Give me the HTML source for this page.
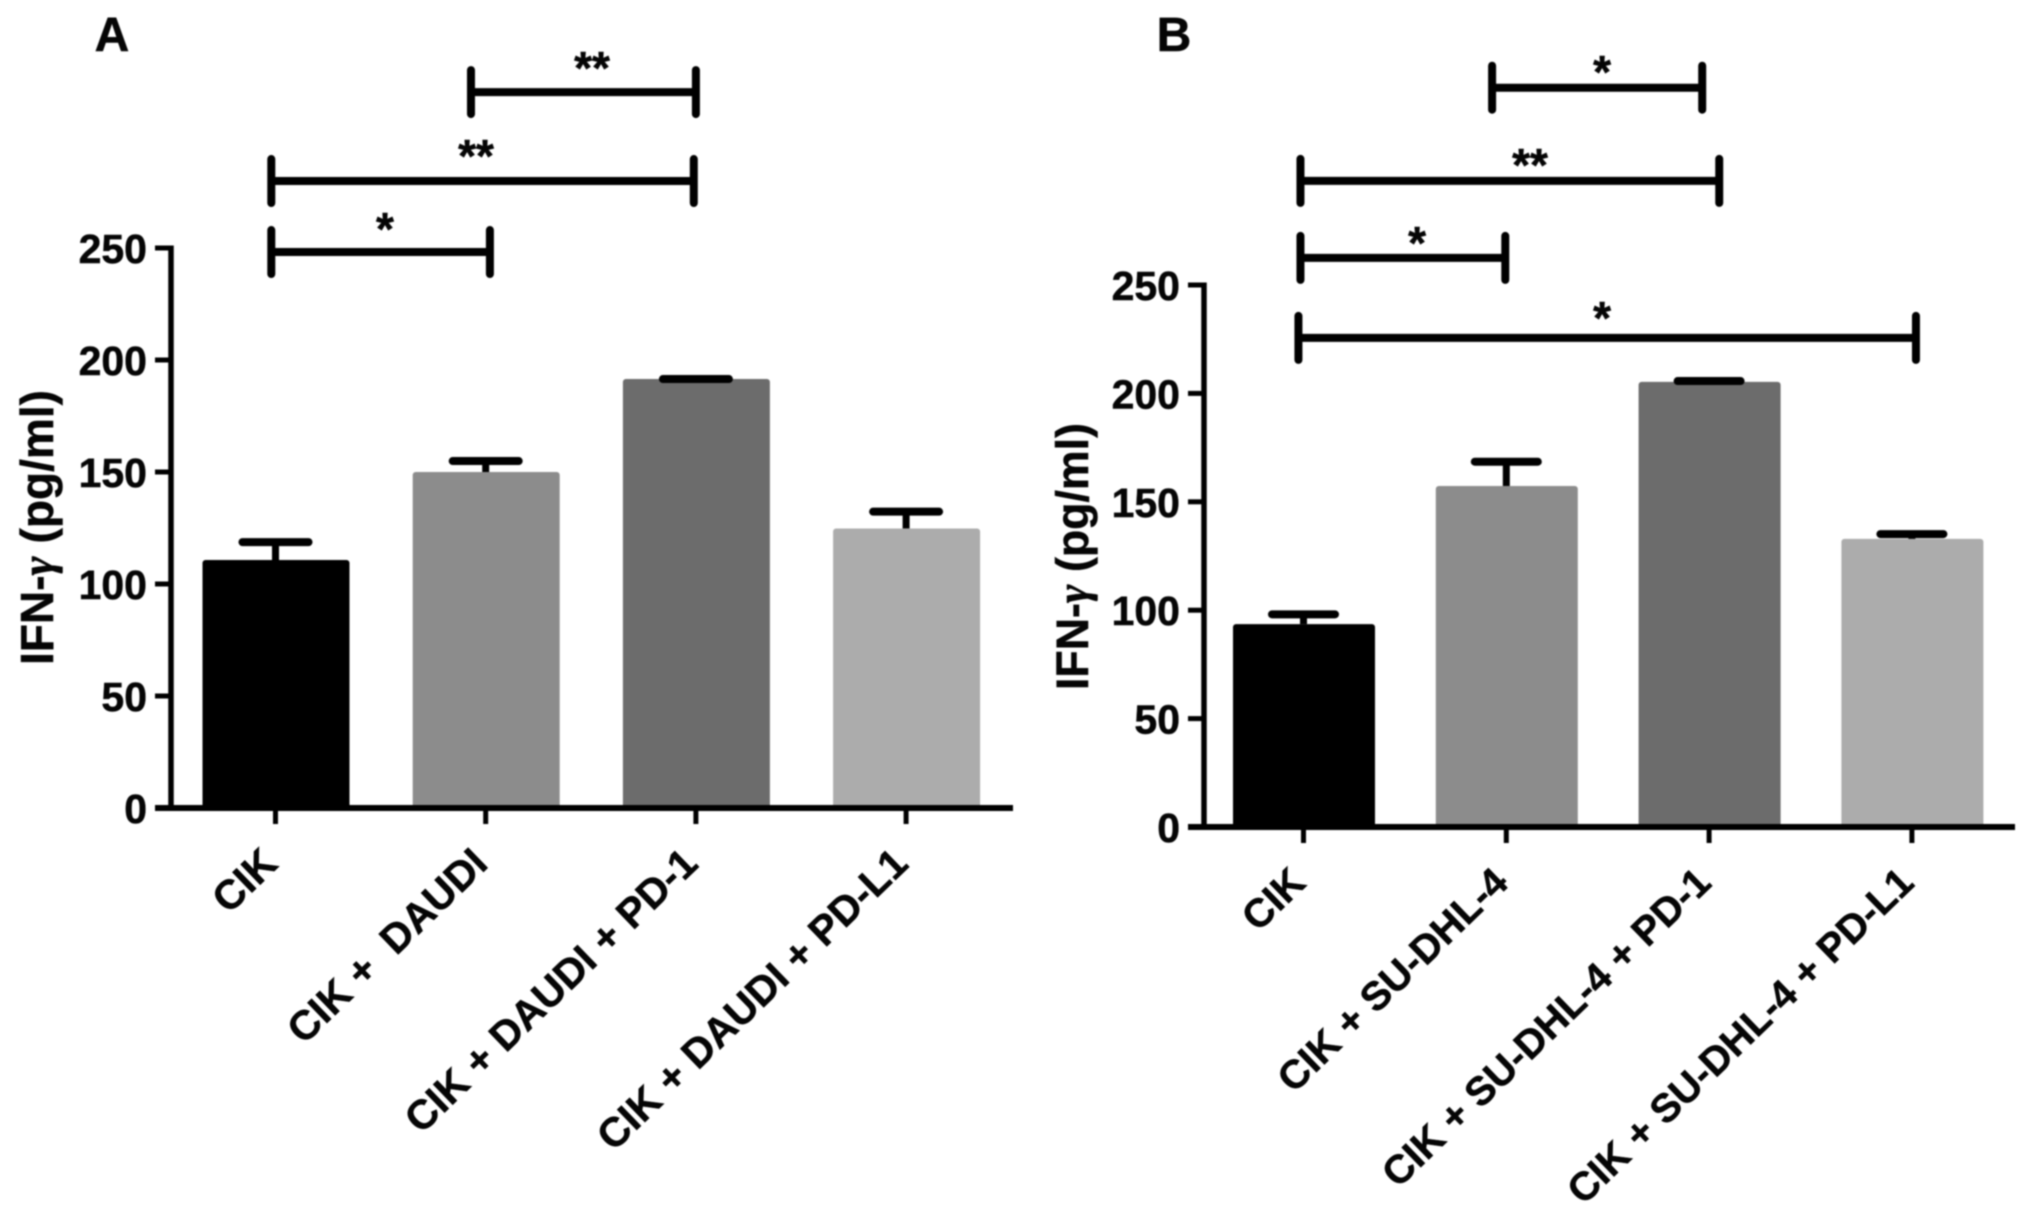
<!DOCTYPE html>
<html lang="en">
<head>
<meta charset="utf-8">
<title>IFN-γ bar charts</title>
<style>
html,body{margin:0;padding:0;background:#fff;width:2031px;height:1220px;overflow:hidden}
svg{display:block;filter:blur(0.8px)}
text{font-family:"Liberation Sans",sans-serif;font-weight:bold;fill:#050505;white-space:pre;stroke:#050505;stroke-width:0.5px}
</style>
</head>
<body>
<svg id="chart" xmlns="http://www.w3.org/2000/svg" width="2031" height="1220" viewBox="0 0 2031 1220">
  <rect x="0" y="0" width="2031" height="1220" fill="#ffffff"/>
  <text x="112" y="51" font-size="48" text-anchor="middle">A</text>
  <text x="1174" y="51" font-size="48" text-anchor="middle">B</text>
  <text transform="translate(53 665) rotate(-90)" font-size="46" textLength="275" lengthAdjust="spacingAndGlyphs">IFN-<tspan style="font-family:'Liberation Serif',serif;font-style:italic">γ</tspan> (pg/ml)</text>
  <text transform="translate(1088 690) rotate(-90)" font-size="45" textLength="267" lengthAdjust="spacingAndGlyphs">IFN-<tspan style="font-family:'Liberation Serif',serif;font-style:italic">γ</tspan> (pg/ml)</text>
  <g id="panel-a"></g>
  <g id="panel-b"></g>
</svg>
<script>
const yTicks = [0, 50, 100, 150, 200, 250];
const barFills = ['#000000', '#8c8c8c', '#6c6c6c', '#acacac'];

const categoriesA = ['CIK', 'CIK +  DAUDI', 'CIK + DAUDI + PD-1', 'CIK + DAUDI + PD-L1'];
const valuesA = [110.7, 150, 191.5, 124.8];
const errorsA = [8, 4.9, 0, 7.5];
const sigFromA = [0.93, -0.02, -0.02];
const sigToA = [2.0, 1.99, 1.02];
const sigLevelA = [319.6, 279.9, 248.2];
const sigMarkA = ['**', '**', '*'];
const sigMarkPosA = [1.506, 0.954, 0.521];
const sigMarkLevelA = [323.2, 283.9, 251.3];

const categoriesB = ['CIK', 'CIK + SU-DHL-4', 'CIK + SU-DHL-4 + PD-1', 'CIK + SU-DHL-4 + PD-L1'];
const valuesB = [93.6, 157.3, 205.3, 132.9];
const errorsB = [4.5, 11.2, 0.4, 2.2];
const sigFromB = [0.93, -0.015, -0.015, -0.025];
const sigToB = [1.966, 2.05, 0.995, 3.02];
const sigLevelB = [341, 298, 262.5, 225.6];
const sigMarkB = ['*', '**', '*', '*'];
const sigMarkPosB = [1.472, 1.117, 0.56, 1.472];
const sigMarkLevelB = [340.9, 298, 262, 227.4];

const SVGNS = 'http://www.w3.org/2000/svg';
function mk(parent, tag, props) {
  const el = document.createElementNS(SVGNS, tag);
  for (const k in props) el.setAttribute(k, props[k]);
  parent.appendChild(el);
  return el;
}

function drawPanel(root, cats, vals, errs, sFrom, sTo, sLevel, sMark, sMarkPos, sMarkLevel, L) {
  const yScale = v => L.y0 - v * L.yUnit;
  const xScale = i => L.x0 + i * L.xStep;

  // bars
  cats.forEach((c, i) => {
    const bar = mk(root, 'rect', {x: xScale(i) - L.barW / 2 + 0.5, y: yScale(vals[i]), width: L.barW, height: L.y0 - yScale(vals[i]), fill: barFills[i], rx: 3});
    
    
  });

  // error bars
  cats.forEach((c, i) => {
    const top = yScale(vals[i] + errs[i]);
    const stem = mk(root, 'line', {x1: xScale(i), x2: xScale(i), y1: yScale(vals[i]), y2: top, stroke: '#000', 'stroke-width': 7});
    
    
    const cap = mk(root, 'line', {x1: xScale(i) - L.capW / 2, x2: xScale(i) + L.capW / 2, y1: top, y2: top, stroke: '#000', 'stroke-width': 8, 'stroke-linecap': 'round'});
    
    
  });

  // y axis
  const yAxis = mk(root, 'line', {x1: L.axisX, x2: L.axisX, y1: yScale(yTicks[yTicks.length - 1]) - 2.5, y2: L.y0 + 2.5, stroke: '#000', 'stroke-width': 5.5});
  
  
  yTicks.forEach(t => {
    const tick = mk(root, 'line', {x1: L.axisX - 16, x2: L.axisX, y1: yScale(t), y2: yScale(t), stroke: '#000', 'stroke-width': 5});
    
    
    const lab = mk(root, 'text', {x: L.axisX - 24, y: yScale(t) + 15, 'font-size': 41, 'text-anchor': 'end'});
    lab.textContent = String(t);
    
    
  });

  // x axis
  const xAxis = mk(root, 'line', {x1: L.axisX - 16, x2: L.xEnd, y1: L.y0, y2: L.y0, stroke: '#000', 'stroke-width': 6});
  
  
  cats.forEach((c, i) => {
    const tick = mk(root, 'line', {x1: xScale(i), x2: xScale(i), y1: L.y0, y2: L.y0 + 16, stroke: '#000', 'stroke-width': 5});
    
    
    const lab = mk(root, 'text', {transform: 'translate(' + (xScale(i) + 4) + ' ' + (L.y0 + 58) + ') rotate(-44)', 'font-size': L.labelSize, 'text-anchor': 'end'});
    lab.textContent = c;
    
    
  });

  // significance brackets
  sMark.forEach((m, i) => {
    const x1 = xScale(sFrom[i]), x2 = xScale(sTo[i]), y = yScale(sLevel[i]);
    const bar = mk(root, 'line', {x1: x1, x2: x2, y1: y, y2: y, stroke: '#000', 'stroke-width': 8});
    
    
    [x1, x2].forEach(x => {
      const end = mk(root, 'line', {x1: x, x2: x, y1: y - 22, y2: y + 22, stroke: '#000', 'stroke-width': 8, 'stroke-linecap': 'round'});
      
      
    });
    const star = mk(root, 'text', {x: xScale(sMarkPos[i]), y: yScale(sMarkLevel[i]), 'font-size': 46, 'text-anchor': 'middle'});
    star.textContent = m;
    
    
  });
}

drawPanel(document.getElementById('panel-a'), categoriesA, valuesA, errorsA, sigFromA, sigToA, sigLevelA, sigMarkA, sigMarkPosA, sigMarkLevelA,
  {y0: 808, yUnit: 2.24, x0: 275.5, xStep: 210.2, barW: 147, capW: 66, axisX: 171, xEnd: 1013, labelSize: 41});
drawPanel(document.getElementById('panel-b'), categoriesB, valuesB, errorsB, sigFromB, sigToB, sigLevelB, sigMarkB, sigMarkPosB, sigMarkLevelB,
  {y0: 827, yUnit: 2.168, x0: 1303.5, xStep: 202.8, barW: 142, capW: 63, axisX: 1204, xEnd: 2015, labelSize: 40});
</script>
</body>
</html>
